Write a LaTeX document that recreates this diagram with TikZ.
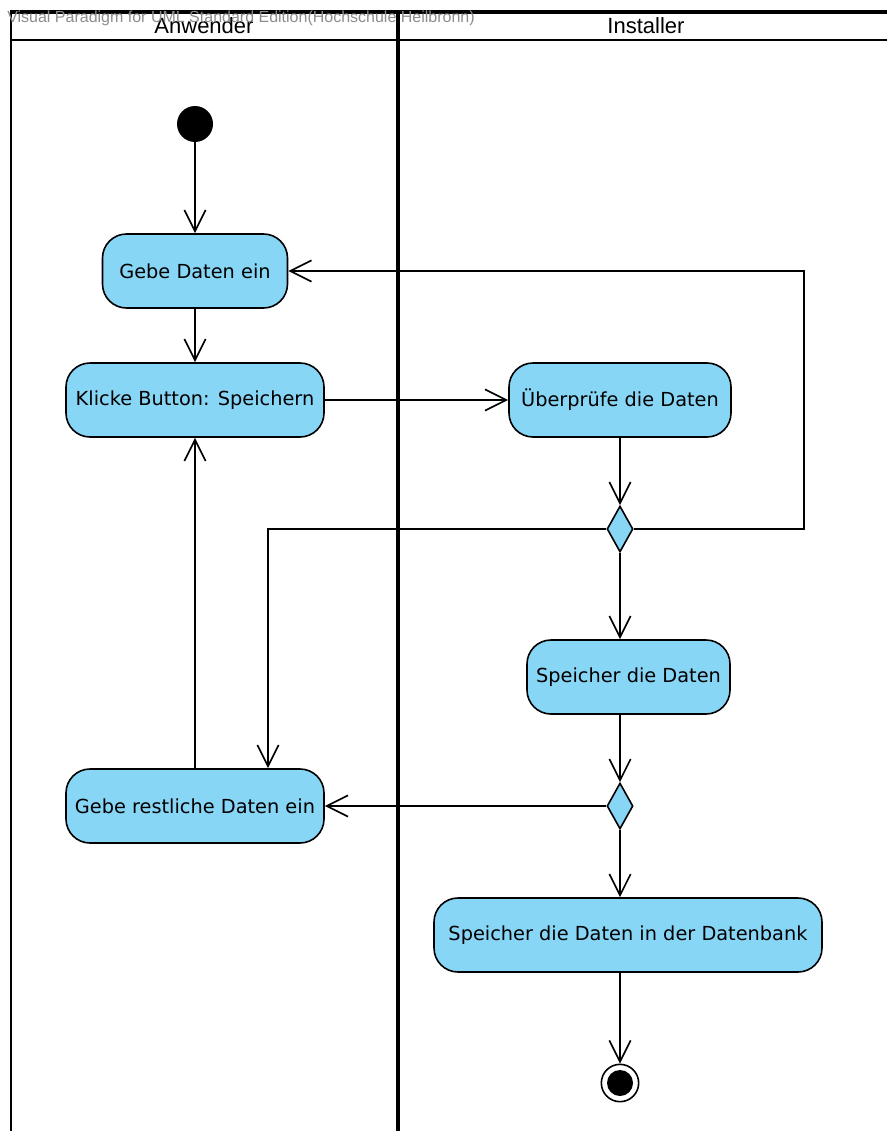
\documentclass[tikz,border=0pt]{standalone}
\usepackage{fontspec}
\setmainfont{DejaVu Sans}
\newfontfamily\lanefont{Liberation Sans}
\newfontfamily\markfont{Liberation Sans}
\usetikzlibrary{shapes.geometric,arrows.meta}
\definecolor{actfill}{RGB}{136,214,246}
\definecolor{markgray}{RGB}{140,140,140}
\tikzset{
  act/.style={draw=black, line width=1.2pt, fill=actfill, rounded corners=18pt,
    minimum height=55.5pt, inner sep=0pt, font=\fontsize{14.5}{16}\selectfont},
  decision/.style={diamond, draw=black, line width=1.2pt, fill=actfill, inner sep=0pt,
    minimum width=19.5pt, minimum height=34.5pt},
  flow/.style={line width=1.25pt, -{Straight Barb[length=16pt, width=16pt, line width=1.25pt]}},
  lane/.style={line width=2pt},
  lanebold/.style={line width=2.6pt},
}
\begin{document}
\begin{tikzpicture}[x=0.75pt, y=-0.75pt]
\useasboundingbox (0,0) rectangle (887,1131);

% swimlane frame
\draw[lanebold] (10,12) -- (887,12);
\draw[lane] (10,40) -- (887,40);
\draw[lane] (11,12) -- (11,1131);
\draw[lanebold] (398,12) -- (398,1131);
\node[font=\lanefont\fontsize{16.5}{18}\selectfont] (laneA) at (204,26) {Anwender};
\node[font=\lanefont\fontsize{16.5}{18}\selectfont] (laneB) at (646,26) {Installer};
\node[anchor=west, inner sep=0pt, text=markgray, font=\markfont\fontsize{12}{13}\selectfont] (mark) at (7,18) {Visual Paradigm for UML Standard Edition(Hochschule Heilbronn)};

% start and end
\node[circle, fill=black, minimum size=27pt, inner sep=0pt] (start) at (195,124) {};
\node[circle, draw=black, line width=1.2pt, fill=white, minimum size=28pt, inner sep=0pt] (stop) at (620,1083) {};
\node[circle, fill=black, minimum size=19.5pt, inner sep=0pt] (stopdot) at (620,1083) {};

% actions
\node[act, minimum width=138.75pt] (gebe) at (195,271) {Gebe Daten ein};
\node[act, minimum width=193.5pt] (klicke) at (195,400) {Klicke Button: Speichern};
\node[act, minimum width=166.5pt] (pruefe) at (620,400) {Überprüfe die Daten};
\node[decision] (d1) at (620,529) {};
\node[act, minimum width=152.25pt] (speicher) at (628.5,677) {Speicher die Daten};
\node[decision] (d2) at (620,806) {};
\node[act, minimum width=193.5pt] (rest) at (195,806) {Gebe restliche Daten ein};
\node[act, minimum width=291pt] (bank) at (628,935) {Speicher die Daten in der Datenbank};

% bends
\coordinate (r1) at (804,529);
\coordinate (r2) at (804,271);
\coordinate (l1) at (268,529);

% flows
\draw[flow] (start) -- (gebe.north);
\draw[flow] (gebe) -- (klicke);
\draw[flow] (klicke) -- (pruefe);
\draw[flow] (pruefe) -- (d1.north);
\draw[flow] (d1.east) -- (r1) -- (r2) -- (gebe.east);
\draw[flow] (d1.west) -- (l1) -- (l1 |- rest.north);
\draw[flow] (d1.south) -- (d1.south |- speicher.north);
\draw[flow] (d1.south |- speicher.south) -- (d2.north);
\draw[flow] (d2.west) -- (rest.east);
\draw[flow] (d2.south) -- (d2.south |- bank.north);
\draw[flow] (rest.north) -- (klicke.south);
\draw[flow] (d2.south |- bank.south) -- (stop.north);
\end{tikzpicture}
\end{document}
